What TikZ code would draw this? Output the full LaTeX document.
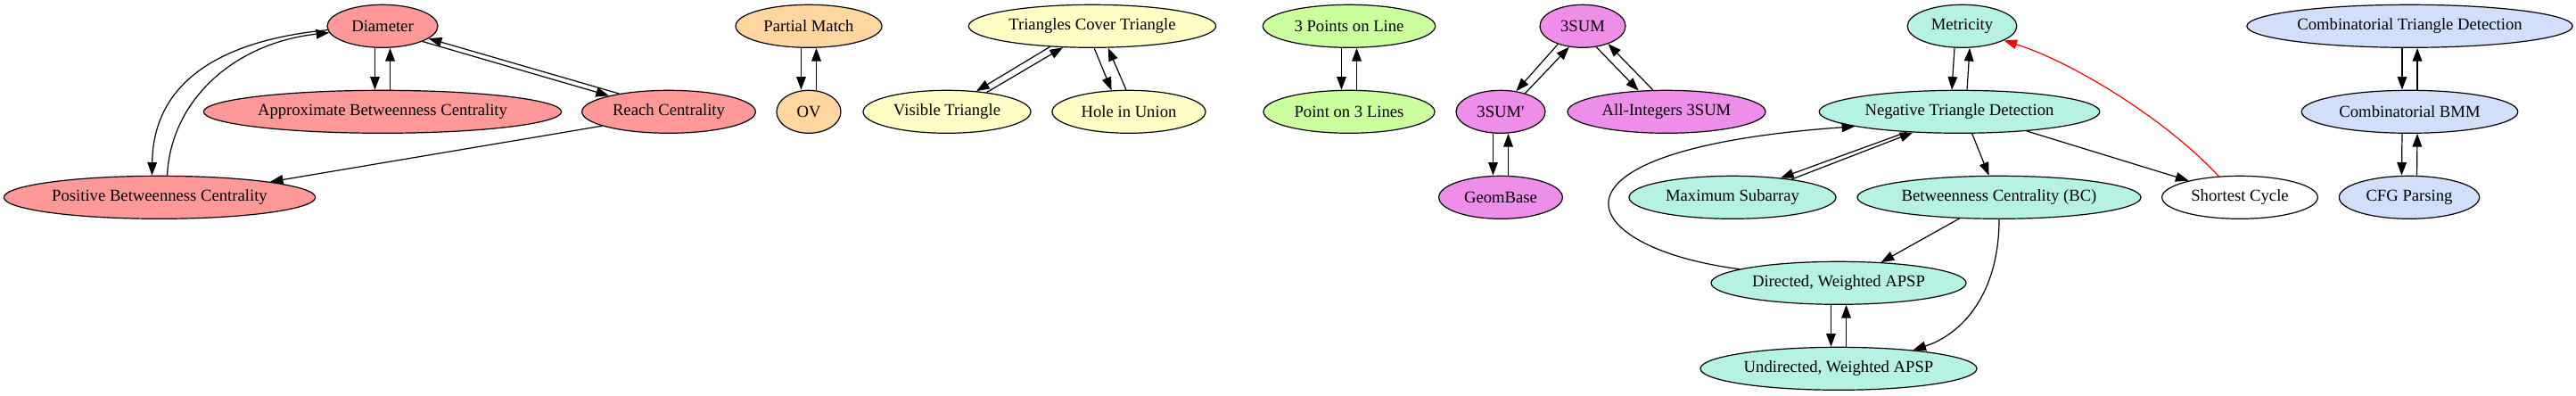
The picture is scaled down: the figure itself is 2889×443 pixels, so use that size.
\documentclass[tikz,border=0pt]{standalone}
\usepackage{fontspec}
\setmainfont{Liberation Serif}
\usetikzlibrary{shapes.geometric, arrows.meta}

\definecolor{redfill}{HTML}{FF9999}
\definecolor{orangefill}{HTML}{FFD5A0}
\definecolor{yellowfill}{HTML}{FFFFC5}
\definecolor{greenfill}{HTML}{CCFF9E}
\definecolor{violetfill}{HTML}{EE8EE8}
\definecolor{tealfill}{HTML}{B5F2E3}
\definecolor{bluefill}{HTML}{D1DFFA}

\tikzset{
	gnode/.style={ellipse, draw=black, line width=0.9pt, inner sep=0pt, minimum height=36pt, font=\fontsize{14}{17}\selectfont},
	dep/.style={-{Triangle[length=11pt, width=8pt]}, line width=0.9pt},
	pairl/.style={xshift=-6.4pt},
	pairr/.style={xshift=6.4pt}
}

\begin{document}
\begin{tikzpicture}[x=0.75pt, y=-0.75pt]
	\useasboundingbox (0,0) rectangle (2889,443);
	% rows
	\node (diam) at (429,29.3)[gnode, fill=redfill, minimum width=93pt]{Diameter};
	\node (approx) at (429,125.3)[gnode, fill=redfill, minimum width=301pt]{Approximate Betweenness Centrality};
	\node (reach) at (750,125.3)[gnode, fill=redfill, minimum width=146pt]{Reach Centrality};
	\node (posbc) at (179,221.3)[gnode, fill=redfill, minimum width=262pt]{Positive Betweenness Centrality};
	\node (partial) at (907,29.3)[gnode, fill=orangefill, minimum width=123pt]{Partial Match};
	\node (ov) at (907,125.3)[gnode, fill=orangefill, minimum width=54pt]{OV};
	\node (tct) at (1225,29.3)[gnode, fill=yellowfill, minimum width=208pt]{Triangles Cover Triangle};
	\node (visible) at (1062,125.3)[gnode, fill=yellowfill, minimum width=141pt]{Visible Triangle};
	\node (hole) at (1266,125.3)[gnode, fill=yellowfill, minimum width=129pt]{Hole in Union};
	\node (threepts) at (1513,29.3)[gnode, fill=greenfill, minimum width=145pt]{3 Points on Line};
	\node (ptlines) at (1513,125.3)[gnode, fill=greenfill, minimum width=144pt]{Point on 3 Lines};
	\node (threesum) at (1775,29.3)[gnode, fill=violetfill, minimum width=72pt]{3SUM};
	\node (threesump) at (1683,125.3)[gnode, fill=violetfill, minimum width=75pt]{3SUM\textquotesingle};
	\node (allint) at (1869,125.3)[gnode, fill=violetfill, minimum width=166.5pt]{All-Integers 3SUM};
	\node (geombase) at (1683,221.3)[gnode, fill=violetfill, minimum width=104pt]{GeomBase};
	\node (metricity) at (2200.5,29.3)[gnode, fill=tealfill, minimum width=92pt]{Metricity};
	\node (ntd) at (2197.5,125.3)[gnode, fill=tealfill, minimum width=236pt]{Negative Triangle Detection};
	\node (maxsub) at (1943,221.3)[gnode, fill=tealfill, minimum width=174pt]{Maximum Subarray};
	\node (bc) at (2242,221.3)[gnode, fill=tealfill, minimum width=238.5pt]{Betweenness Centrality (BC)};
	\node (shortest) at (2512,221.3)[gnode, fill=white, minimum width=131pt]{Shortest Cycle};
	\node (dapsp) at (2062,317.3)[gnode, fill=tealfill, minimum width=214.5pt]{Directed, Weighted APSP};
	\node (uapsp) at (2062,413.3)[gnode, fill=tealfill, minimum width=232.5pt]{Undirected, Weighted APSP};
	\node (ctd) at (2702.5,29.3)[gnode, fill=bluefill, minimum width=274pt]{Combinatorial Triangle Detection};
	\node (bmm) at (2702.5,125.3)[gnode, fill=bluefill, minimum width=182pt]{Combinatorial BMM};
	\node (cfg) at (2702,221.3)[gnode, fill=bluefill, minimum width=118pt]{CFG Parsing};

	% reductions
	\draw[dep] ([pairl]diam.south) -- ([pairl]approx.north);
	\draw[dep] ([pairr]approx.north) -- ([pairr]diam.south);
	\draw[dep] (diam.-21) -- (reach.165);
	\draw[dep] (reach.160) -- (diam.-15);
	\draw[dep] (diam.184) .. controls (250,45) and (172,90) .. ([pairl]posbc.north);
	\draw[dep] ([pairr]posbc.north) .. controls (192,110) and (265,48) .. (diam.187);
	\draw[dep] (reach.192) -- (posbc.8);
	\draw[dep] ([pairl]partial.south) -- ([pairl]ov.north);
	\draw[dep] ([pairr]ov.north) -- ([pairr]partial.south);
	\draw[dep] (tct.206) -- (visible.35);
	\draw[dep] (visible.26) -- (tct.216);
	\draw[dep] (tct.-85) -- (hole.129);
	\draw[dep] (hole.97) -- (tct.-54.5);
	\draw[dep] ([pairl]threepts.south) -- ([pairl]ptlines.north);
	\draw[dep] ([pairr]ptlines.north) -- ([pairr]threepts.south);
	\draw[dep] (threesum.216) -- (threesump.53);
	\draw[dep] (threesump.37) -- (threesum.237);
	\draw[dep] (threesum.-57) -- (allint.143);
	\draw[dep] (allint.122) -- (threesum.-35);
	\draw[dep] ([pairl]threesump.south) -- ([pairl]geombase.north);
	\draw[dep] ([pairr]geombase.north) -- ([pairr]threesump.south);
	\draw[dep] ([pairl]metricity.south) -- ([pairl]ntd.north);
	\draw[dep] ([pairr]ntd.north) -- ([pairr]metricity.south);
	\draw[dep] (ntd.201) -- (maxsub.22.5);
	\draw[dep] (maxsub.17) -- (ntd.204.5);
	\draw[dep] (ntd.-60) -- (bc.115);
	\draw[dep] (ntd.-16) -- (shortest.162);
	\draw[dep, red] (shortest.135) .. controls (2425,130) and (2320,68) .. (metricity.-19);
	\draw[dep] (bc.208) -- (dapsp.26);
	\draw[dep] (bc.south) .. controls (2242,330) and (2200,375) .. (uapsp.14);
	\draw[dep] (dapsp.172) .. controls (1765,278) and (1708,168) .. (ntd.188);
	\draw[dep] ([pairl]dapsp.south) -- ([pairl]uapsp.north);
	\draw[dep] ([pairr]uapsp.north) -- ([pairr]dapsp.south);
	\draw[dep] ([pairl]ctd.south) -- ([pairl]bmm.north);
	\draw[dep] ([pairr]bmm.north) -- ([pairr]ctd.south);
	\draw[dep] ([pairl]bmm.south) -- ([pairl]cfg.north);
	\draw[dep] ([pairr]cfg.north) -- ([pairr]bmm.south);
\end{tikzpicture}
\end{document}
